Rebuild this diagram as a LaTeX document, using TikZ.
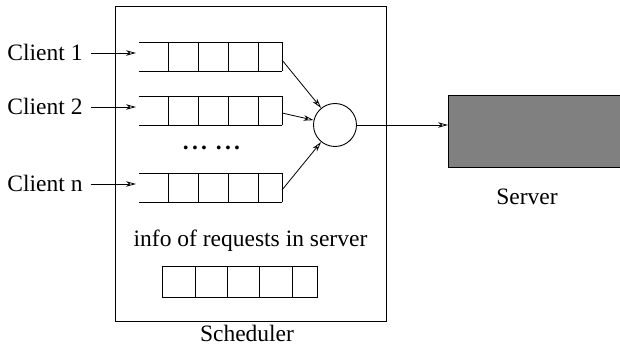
\documentclass[tikz,border=0pt]{standalone}
\usepackage{fontspec}
\setmainfont{Liberation Serif}
\usetikzlibrary{arrows.meta}
\begin{document}
\begin{tikzpicture}[x=1pt,y=-1pt,
  line width=0.9pt,
  lbl/.style={inner sep=0pt,font=\fontsize{23.5}{28}\selectfont},
  arr/.style={-{Stealth[open,length=10pt,width=5.5pt,inset=3pt]},line width=0.8pt},
  cell/.style={draw,line width=0.9pt}]
\useasboundingbox (0,0) rectangle (620,347);
\clip (0,0) rectangle (620,347);

% scheduler frame
\node[draw,line width=1pt,minimum width=271pt,minimum height=315pt,inner sep=0pt,anchor=north west] (sched) at (115,6) {};
\node[lbl] (schedlbl) at (247,333) {Scheduler};

% client queues: open on the left, divided into cells
\foreach \n/\t in {q1/42,q2/96,qn/173}{
  \draw[cell] (139,\t) -- (282,\t) (139,\t+29) -- (282,\t+29);
  \foreach \x in {168,198,228,258,282}
    \draw[cell] (\x,\t) -- (\x,\t+29);
}
\coordinate (q1in) at (136,53);
\coordinate (q2in) at (136,107);
\coordinate (qnin) at (136,184);
\coordinate (q1out) at (282,60);
\coordinate (q2out) at (282,113);
\coordinate (qnout) at (282,190);

% client labels and their arrows
\node[lbl,anchor=base east] (c1) at (83,61) {Client 1};
\node[lbl,anchor=base east] (c2) at (83,115) {Client 2};
\node[lbl,anchor=base east] (cn) at (83,192) {Client n};
\coordinate (c1out) at (91,53);
\coordinate (c2out) at (91,107);
\coordinate (cnout) at (91,184);
\draw[arr] (c1out) -- (q1in);
\draw[arr] (c2out) -- (q2in);
\draw[arr] (cnout) -- (qnin);

% dots between the queues
\node[lbl] (dots) at (211.5,148) {\textbf{.\kern3.2pt.\kern3.2pt.}\kern9pt\textbf{.\kern3.2pt.\kern3.2pt.}};

% merging point
\node[draw,circle,minimum size=43pt,inner sep=0pt,line width=0.9pt] (mux) at (335,125) {};
\draw[arr] (q1out) -- (mux);
\draw[arr] (q2out) -- (mux);
\draw[arr] (qnout) -- (mux);

% server
\node[draw,fill=black!50,line width=1pt,minimum width=180pt,minimum height=72pt,inner sep=0pt,anchor=north west] (server) at (448,95) {};
\node[lbl] (serverlbl) at (527,197) {Server};
\draw[arr] (mux.east) -- (mux.east -| server.west);

% record of requests held in the server
\node[lbl] (info) at (250.5,241) {info of requests in server};
\draw[cell] (162,266) rectangle (317,297);
\foreach \x in {195,227,259,292}
  \draw[cell] (\x,266) -- (\x,297);
\end{tikzpicture}
\end{document}
